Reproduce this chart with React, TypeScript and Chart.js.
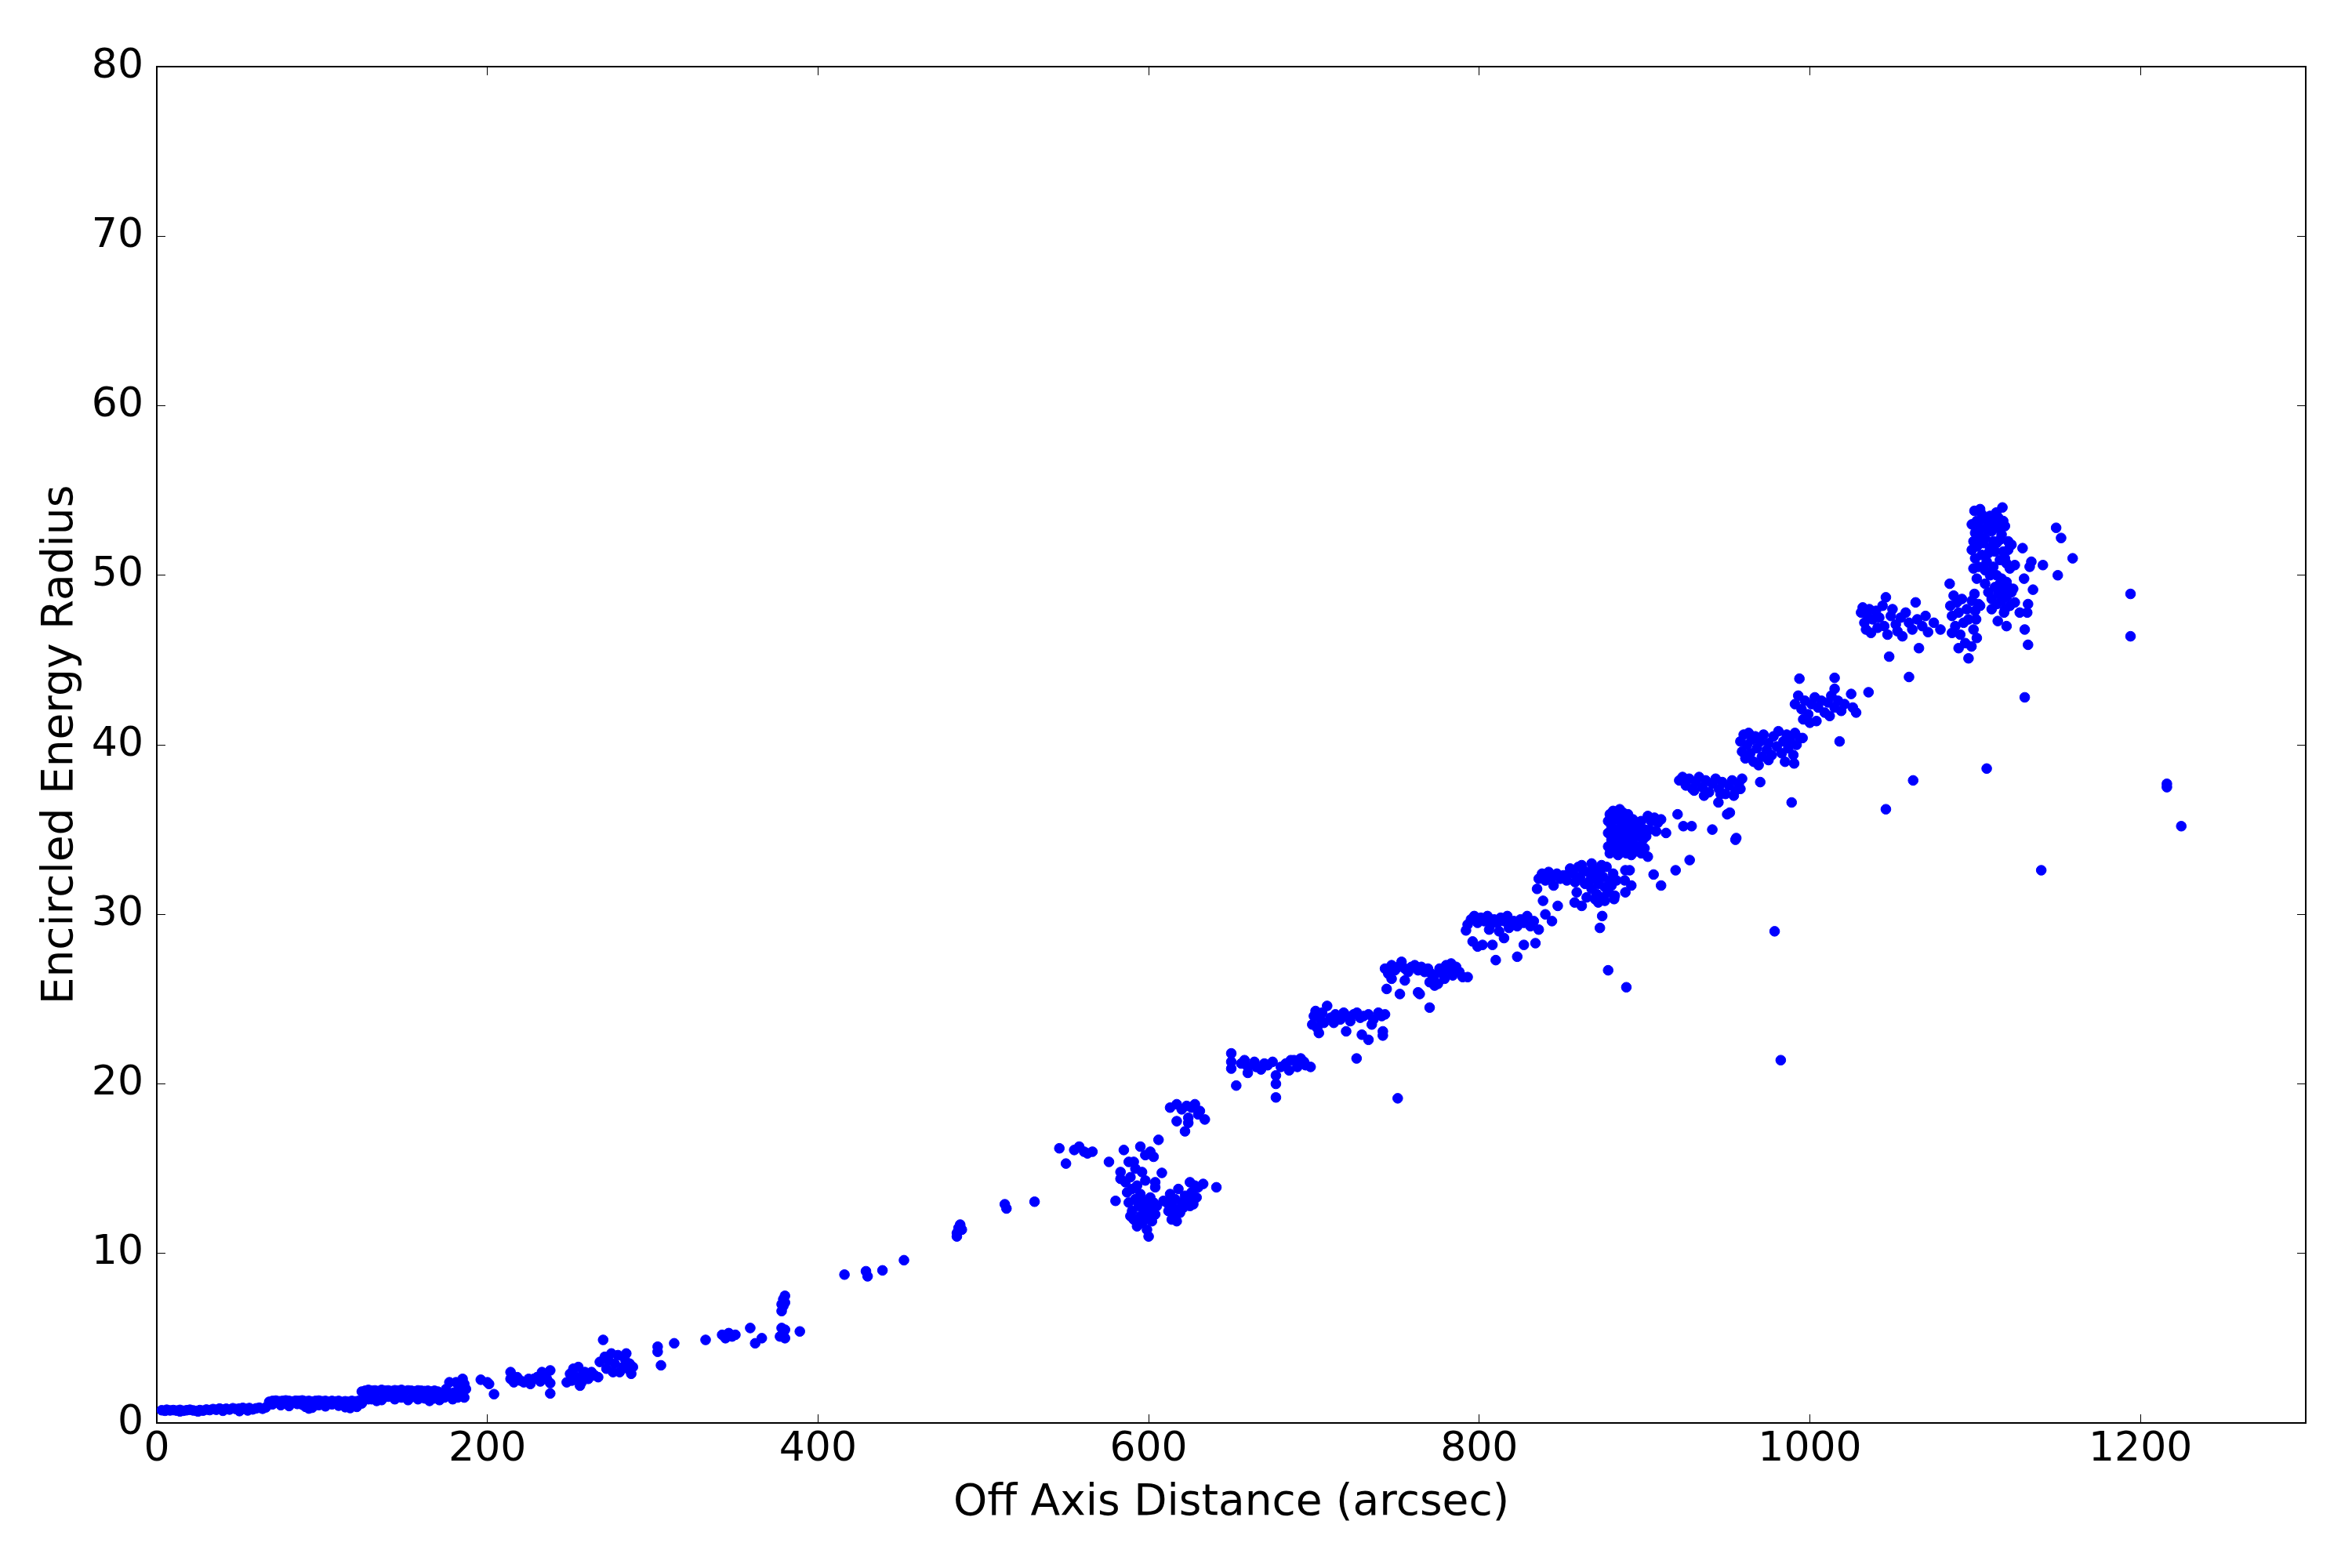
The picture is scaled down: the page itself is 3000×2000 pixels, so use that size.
import React, { useEffect, useRef } from "react";
import { Chart, registerables } from "chart.js";

Chart.register(...registerables);

type P = [number, number];

const xTicks = [0, 200, 400, 600, 800, 1000, 1200];
const yTicks = [0, 10, 20, 30, 40, 50, 60, 70, 80];

const band0: P[] = [
  [3, 0.75], [5, 0.72], [6, 0.78], [8, 0.74], [10, 0.76], [12, 0.73], [14, 0.77], [16, 0.72], [18, 0.75], [20, 0.78],
  [22, 0.74], [24, 0.71], [26, 0.76], [28, 0.73], [30, 0.79], [32, 0.76], [34, 0.82], [36, 0.78], [38, 0.85], [40, 0.8],
  [42, 0.84], [44, 0.79], [46, 0.87], [48, 0.82], [50, 0.85], [52, 0.89], [54, 0.83], [56, 0.88], [58, 0.8], [60, 0.86],
  [62, 0.9], [64, 0.84], [66, 0.92], [14, 0.68], [25, 0.68], [40, 0.72], [50, 0.7], [55, 0.74],
];

const band1: P[] = [
  [68, 1.25], [70, 1.3], [72, 1.32], [74, 1.28], [76, 1.3], [78, 1.33], [80, 1.3], [82, 1.27], [84, 1.31], [86, 1.3],
  [88, 1.33], [90, 1.28], [92, 1.3], [94, 1.26], [96, 1.3], [98, 1.32], [100, 1.28], [102, 1.3], [104, 1.25], [106, 1.3],
  [108, 1.27], [110, 1.3], [112, 1.24], [114, 1.28], [116, 1.25], [118, 1.3], [120, 1.27], [122, 1.3],
  [70, 1.1], [75, 1.05], [80, 1.0], [85, 1.12], [90, 0.95], [94, 0.9], [98, 1.05], [102, 0.98], [106, 1.1], [110, 1.02],
  [114, 0.93], [118, 1.08], [121, 0.95], [124, 1.15], [78, 1.15], [88, 1.08], [92, 0.85], [117, 0.88],
];

const band2: P[] = [
  [124, 1.85], [126, 1.9], [128, 1.95], [130, 1.9], [132, 1.92], [134, 1.88], [136, 1.95], [138, 1.9], [140, 1.92], [142, 1.88],
  [144, 1.93], [146, 1.9], [148, 1.95], [150, 1.88], [152, 1.92], [154, 1.9], [156, 1.87], [158, 1.92], [160, 1.9], [162, 1.88],
  [164, 1.9], [166, 1.85], [168, 1.9], [170, 1.85],
  [126, 1.6], [130, 1.4], [133, 1.3], [136, 1.35], [140, 1.55], [144, 1.4], [148, 1.5], [152, 1.35], [155, 1.55], [158, 1.4],
  [162, 1.45], [165, 1.3], [168, 1.45], [171, 1.35], [138, 1.7], [146, 1.7], [156, 1.68], [164, 1.65], [132, 1.65], [128, 1.4],
  [174, 1.5], [175, 2.0], [176, 1.7], [177, 2.4], [178, 1.6], [180, 1.8], [181, 2.4], [182, 1.5], [183, 2.1], [184, 1.7],
  [185, 2.6], [186, 2.3], [186, 1.5], [187, 2.0], [179, 1.4], [172, 1.6],
];

const band3: P[] = [
  [196, 2.55], [200, 2.4], [201, 2.3], [204, 1.7], [214, 3.0], [214, 2.6], [216, 2.4], [220, 2.5], [222, 2.4], [225, 2.6],
  [228, 2.6], [230, 2.7], [232, 2.45], [233, 3.0], [234, 2.8], [236, 2.6], [238, 3.1], [238, 1.74], [238, 2.35], [218, 2.7],
  [226, 2.3],
  [248, 2.4], [250, 2.9], [252, 3.2], [254, 2.7], [255, 3.3], [256, 2.2], [258, 2.9], [259, 3.0], [261, 2.6], [263, 3.0],
  [265, 2.8], [267, 2.7], [268, 3.6], [270, 4.9], [271, 3.9], [272, 3.2], [273, 3.7], [275, 4.1], [276, 3.0], [277, 3.5],
  [279, 4.0], [280, 3.0], [282, 3.3], [283, 3.8], [284, 4.1], [285, 3.2], [286, 3.5], [287, 2.9], [288, 3.3], [251, 2.5],
  [257, 2.4],
];

const band4: P[] = [
  [303, 4.5], [303, 4.2], [305, 3.4], [313, 4.7], [332, 4.9], [342, 5.2], [344, 5.0], [346, 5.3], [348, 5.1], [350, 5.2],
  [359, 5.6], [362, 4.7], [366, 5.0], [377, 5.1], [378, 5.6], [379, 5.3], [380, 5.0], [380, 5.5], [378, 6.6], [379, 6.9],
  [380, 7.1], [379, 7.3], [380, 7.5], [378, 7.0], [389, 5.4],
  [416, 8.75], [429, 8.95], [430, 8.65], [439, 9.0], [452, 9.6], [484, 11.0], [485, 11.3], [485, 11.5], [486, 11.7], [484, 11.2],
  [487, 11.4], [486, 11.6], [513, 12.9], [514, 12.65], [531, 13.05],
];

const band5: P[] = [
  [546, 16.2], [550, 15.3], [555, 16.1], [558, 16.3], [561, 16.0], [563, 15.9], [566, 16.0], [576, 15.4], [580, 13.1], [583, 14.8],
  [583, 14.4], [585, 16.1], [588, 15.4], [591, 15.4], [595, 16.3], [598, 15.8], [601, 16.0], [603, 15.7], [606, 16.7], [608, 14.75],
  [604, 14.2], [604, 13.9], [600, 11.0], [609, 13.1],
  [586, 14.2], [587, 13.6], [588, 13.0], [589, 14.5], [590, 12.5], [590, 13.8], [591, 12.0], [592, 13.2], [593, 14.0], [593, 11.6],
  [594, 12.8], [595, 12.2], [595, 13.5], [596, 11.8], [597, 12.6], [597, 13.1], [598, 12.0], [599, 12.9], [599, 11.4], [600, 12.4],
  [601, 13.3], [602, 12.7], [602, 11.9], [603, 13.0], [604, 12.3], [605, 12.8], [598, 14.3], [596, 14.8], [589, 12.2], [592, 15.0],
  [611, 13.0], [612, 12.5], [613, 13.5], [614, 12.8], [615, 12.2], [616, 13.2], [617, 12.6], [618, 13.8], [619, 12.4], [620, 13.0],
  [621, 12.7], [622, 13.4], [623, 12.9], [614, 12.0], [617, 11.9],
  [624, 13.2], [625, 14.2], [626, 13.6], [627, 12.9], [628, 14.0], [629, 13.3], [630, 13.9], [625, 12.8], [633, 14.1], [641, 13.9],
  [613, 18.6], [617, 18.8], [620, 18.5], [623, 18.7], [626, 18.6], [628, 18.8], [631, 18.4], [617, 17.8], [622, 17.2], [624, 18.0],
  [624, 17.7], [630, 18.2], [634, 17.9],
];

const band6: P[] = [
  [650, 21.8], [650, 21.3], [650, 20.9], [653, 19.9], [656, 21.2], [660, 21.0], [660, 20.65], [664, 21.3], [668, 20.85], [670, 21.2],
  [672, 21.1], [675, 21.3], [677, 20.5], [677, 20.0], [677, 19.2], [680, 21.0], [683, 21.2], [686, 21.4], [688, 21.4], [690, 21.0],
  [692, 21.5], [695, 21.1], [698, 21.0], [665, 21.0], [685, 20.8], [658, 21.4], [694, 21.3],
  [700, 24.0], [701, 24.3], [699, 23.5], [702, 23.3], [703, 23.0], [704, 23.8], [706, 23.6], [705, 24.2], [708, 24.6],
  [710, 23.9], [713, 24.1], [716, 23.8], [718, 24.2], [720, 24.0], [722, 23.7], [724, 24.1], [726, 24.2], [728, 23.9], [730, 24.0],
  [733, 24.1], [736, 23.8], [739, 24.2], [741, 24.0], [743, 24.1], [719.5, 23.1], [729, 22.9], [733, 22.6], [741.7, 23.1],
  [741.7, 22.85], [725.8, 21.5], [750.7, 19.15], [712, 23.6], [735, 23.5],
];

const band7: P[] = [
  [743, 26.8], [745, 26.5], [747, 27.0], [749, 26.7], [751, 26.9], [753, 27.2], [755, 26.8], [757, 26.6], [759, 26.9], [761, 27.0],
  [763, 26.7], [765, 26.9], [767, 26.6], [769, 26.8], [771, 26.5], [773, 26.4], [744, 25.6], [747, 26.2], [752, 25.3], [755, 26.1],
  [763, 25.4], [764, 25.3], [770, 24.5], [770, 26.0], [773, 25.8], [775, 25.9],
  [776, 26.8], [778, 26.5], [780, 27.0], [782, 26.7], [784, 26.4], [786, 26.9], [788, 26.6], [790, 26.3], [779, 26.2], [783, 27.1],
  [793, 26.3],
  [792, 29.05], [793, 29.4], [795, 29.7], [797, 29.9], [799, 29.5], [801, 29.8], [803, 29.6], [805, 29.9], [807, 29.4], [809, 29.7],
  [811, 29.5], [813, 29.8], [815, 29.6], [817, 29.9], [819, 29.4], [821, 29.6], [823, 29.3], [825, 29.7], [827, 29.5], [829, 29.9],
  [831, 29.3], [833, 29.6], [836, 29.1], [806, 29.1], [812, 29.0], [818, 29.2],
  [796, 28.4], [799, 28.1], [802, 28.2], [808, 28.2], [810, 27.3], [815, 28.6], [823, 27.5], [827, 28.2], [834, 28.3], [840, 30.0],
  [844, 29.6], [838.6, 30.8], [847.5, 30.5],
];

const band8: P[] = [
  [835, 31.5], [836, 32.1], [838, 32.4], [840, 32.0], [842, 32.5], [844, 32.2], [845, 31.7], [847, 32.4], [849, 32.1], [851, 32.3],
  [853, 32.0], [853, 32.3], [855, 32.7], [857, 32.4], [858, 31.9], [860, 32.8], [861, 32.2], [863, 32.6], [864, 31.8], [866, 32.5],
  [867, 32.0], [868, 31.5], [869, 32.7], [870, 32.2], [871, 31.2], [872, 31.8], [873, 32.5], [874, 31.0], [875, 32.2], [876, 31.6],
  [877, 32.8], [878, 31.3], [879, 32.0], [880, 31.7], [881, 32.4], [882, 31.1], [883, 32.0], [859, 31.3], [865, 31.0], [870, 30.9],
  [876, 30.8], [862, 32.9], [868, 33.0], [874, 32.9],
  [857.7, 30.7], [862, 30.5], [872, 30.7], [874.4, 29.9], [873, 29.2], [881.6, 30.9], [888.4, 32.6], [888.4, 31.3], [892, 31.7],
  [891, 32.6], [888, 32.0], [878, 26.7], [889, 25.7],
];

const band9: P[] = [
  [878, 34.0], [878, 34.8], [878, 35.5], [879, 33.6], [879, 35.9], [880, 34.4], [880, 35.2], [881, 33.8], [881, 36.1], [882, 34.6],
  [882, 35.6], [883, 34.1], [883, 35.0], [884, 33.5], [884, 35.8], [885, 34.5], [885, 36.2], [886, 33.9], [886, 35.3], [887, 34.7],
  [887, 36.0], [888, 34.2], [888, 35.5], [889, 33.6], [889, 35.0], [890, 34.5], [890, 35.9], [891, 33.9], [891, 35.3], [892, 34.8],
  [892, 33.5], [893, 35.6], [893, 34.2], [894, 35.0], [894, 33.7], [895, 34.6], [896, 35.3], [896, 34.0], [897, 34.9], [898, 33.6],
  [898, 35.5], [899, 34.4], [900, 35.0], [900, 33.9], [901, 34.6], [902, 33.4], [886, 34.3], [884, 34.9], [880, 33.9], [882, 36.0],
  [902, 35.8], [904, 35.5], [906, 35.7], [908, 35.4], [910, 35.6], [903, 35.0], [907, 34.9], [913, 34.8],
  [905.5, 32.35], [910, 31.7], [918.8, 32.6], [920, 35.9], [923.5, 35.2], [928.5, 35.2], [927.3, 33.2], [941, 35.0], [951.6, 36.0],
  [955.5, 34.5], [944.7, 36.6],
];

const band10: P[] = [
  [921, 37.9], [923, 38.1], [925, 37.6], [927, 38.0], [929, 37.4], [931, 37.8], [933, 38.1], [935, 37.5], [937, 37.9], [939, 37.2],
  [941, 37.7], [943, 38.0], [945, 37.4], [947, 37.8], [949, 37.1], [951, 37.6], [953, 37.9], [955, 37.3], [957, 37.7], [959, 38.0],
  [936, 37.0], [946, 37.1], [930, 37.3], [954, 37.0], [958, 37.4], [950, 35.9], [955, 34.4], [970, 37.8], [989, 36.6],
  [958, 40.2], [959, 39.6], [960, 40.6], [961, 39.2], [962, 40.0], [963, 40.7], [964, 39.5], [965, 40.3], [966, 39.0], [967, 40.5],
  [968, 39.8], [970, 40.2], [971, 39.3], [972, 40.6], [974, 39.7], [975, 40.1], [977, 39.4], [978, 40.5], [980, 39.9], [981, 40.8],
  [983, 39.5], [984, 40.2], [986, 40.6], [987, 39.8], [988, 40.3], [990, 39.4], [991, 40.7], [992, 40.0], [994, 40.4], [969, 38.8],
  [990.5, 38.9], [995.6, 40.4], [975, 39.1], [985, 39.0], [978.7, 29.0], [982.4, 21.4],
];

const band11: P[] = [
  [993.7, 43.9], [1015, 43.95], [1015, 43.3], [1018, 40.2],
  [991, 42.4], [993, 42.9], [995, 42.1], [997, 42.6], [999, 41.8], [1001, 42.4], [1003, 42.8], [1005, 42.2], [1007, 42.6], [1009, 41.9],
  [1011, 42.5], [1013, 42.9], [1015, 42.2], [1017, 42.6], [1019, 42.0], [1021, 42.4], [996, 41.5], [1000, 41.3], [1004, 41.4], [1012, 41.7],
  [1025, 43.0], [1026, 42.2], [1028, 41.9], [1035.5, 43.1], [1060, 44.0],
  [1031, 47.8], [1032, 48.1], [1033, 47.2], [1034, 46.8], [1035, 47.6], [1036, 48.0], [1037, 46.6], [1038, 47.4], [1040, 47.9], [1041, 46.9],
  [1042, 47.5], [1044, 48.2], [1045, 47.0], [1046, 48.7], [1047, 46.5], [1048, 45.2], [1049, 47.6], [1050, 48.0], [1052, 47.1], [1053, 46.7],
  [1055, 47.5], [1056, 46.4], [1058, 47.8], [1060, 47.2], [1062, 46.8], [1064, 48.4], [1065, 47.4], [1066, 45.7], [1068, 47.0], [1070, 47.6],
  [1071.5, 46.65], [1075, 47.2], [1079, 46.8], [1046, 36.2], [1062.5, 37.9],
];

const band12: P[] = [
  [1084.6, 49.5], [1085, 48.2], [1086, 47.6], [1087, 48.8], [1088, 47.0], [1089, 48.4], [1090, 45.7], [1090, 47.8], [1091, 46.5], [1092, 48.6],
  [1093, 47.2], [1094, 46.0], [1095, 48.0], [1096, 45.1], [1096, 47.4], [1097.8, 45.8], [1098, 48.5], [1099, 46.8], [1100, 47.9], [1101, 46.3],
  [1102, 48.3], [1086, 46.6],
  [1099.6, 53.8], [1103, 53.9], [1112.8, 53.7], [1116.5, 54.0],
  [1098, 53.0], [1100, 52.5], [1101, 53.2], [1102, 51.8], [1103, 52.8], [1104, 51.2], [1105, 53.3], [1106, 52.2], [1107, 50.8], [1108, 53.0],
  [1109, 51.6], [1110, 52.6], [1111, 50.5], [1112, 53.1], [1113, 51.9], [1114, 52.8], [1115, 50.9], [1116, 52.4], [1117, 51.4], [1118, 52.9],
  [1119, 50.7], [1120, 52.0],
  [1098, 51.5], [1099, 52.0], [1100, 51.0], [1101, 51.7], [1102, 50.5], [1103, 52.3], [1104, 53.6], [1105, 51.9], [1106, 50.3], [1107, 52.7],
  [1108, 51.3], [1109, 53.5], [1110, 50.2], [1111, 52.0], [1112, 51.4], [1113, 50.0], [1114, 53.4], [1115, 52.1], [1116, 49.8], [1117, 53.2],
  [1118, 51.0], [1119, 49.6], [1120, 51.5], [1121, 50.4], [1122, 51.8], [1123, 49.2], [1124, 50.6],
  [1106, 49.5], [1108, 49.0], [1110, 48.6], [1112, 49.3], [1113, 48.3], [1114, 48.9], [1115, 49.5], [1116, 48.5], [1117, 49.1], [1118, 48.0],
  [1119, 48.7], [1120, 49.3], [1121, 48.2], [1122, 49.0], [1124, 48.4], [1109, 50.0], [1105, 50.5], [1101, 49.8], [1099, 50.4],
];

const band13: P[] = [
  [1128.7, 51.6], [1134, 50.8], [1133, 50.5], [1141, 50.6], [1149, 52.8], [1152, 52.2], [1159, 51.0], [1150, 50.0], [1129.6, 49.8],
  [1135, 49.15], [1132, 48.3], [1131.5, 47.8], [1127, 47.8], [1130, 46.8], [1132, 45.9], [1119, 47.0], [1113.7, 47.3], [1117.5, 47.8],
  [1110, 48.0], [1103, 48.2], [1099.6, 48.9], [1100.6, 47.4], [1130, 42.8], [1107, 38.6], [1140, 32.6], [1194, 48.9], [1194, 46.4],
  [1216, 37.5], [1216, 37.7], [1224.7, 35.2],
];

const groups: P[][] = [band0, band1, band2, band3, band4, band5, band6, band7, band8, band9, band10, band11, band12, band13];

const FONT = "'DejaVu Sans', 'Liberation Sans', sans-serif";

export default function App() {
  const ref = useRef<HTMLCanvasElement | null>(null);

  useEffect(() => {
    if (!ref.current) return;
    const points = groups.flat().map(([x, y]) => ({ x, y }));
    const axisGrid = {
      drawOnChartArea: false,
      drawTicks: true,
      tickLength: -11,
      color: "#000000",
      lineWidth: 1,
    };
    const axisBorder = { display: true, color: "#000000", width: 2 };
    const xTickCb = (v: number | string) => (xTicks.includes(Number(v)) ? String(v) : "");
    const yTickCb = (v: number | string) => (yTicks.includes(Number(v)) ? String(v) : "");
    const chart = new Chart(ref.current, {
      type: "scatter",
      data: {
        datasets: [
          {
            data: points,
            backgroundColor: "#0000ff",
            borderColor: "#0000ff",
            borderWidth: 1,
            pointRadius: 6.3,
            pointHoverRadius: 6.3,
          },
        ],
      },
      options: {
        responsive: false,
        animation: false,
        devicePixelRatio: 1,
        layout: { padding: { top: 85, right: 59, left: 0, bottom: 0 } },
        plugins: { legend: { display: false }, tooltip: { enabled: false } },
        scales: {
          x: {
            type: "linear",
            position: "bottom",
            min: 0,
            max: 1300,
            ticks: {
              stepSize: 200,
              includeBounds: false,
              autoSkip: false,
              maxRotation: 0,
              padding: 14,
              color: "#000000",
              font: { family: FONT, size: 52 },
              callback: xTickCb,
            },
            grid: axisGrid,
            border: axisBorder,
            title: {
              display: true,
              text: "Off Axis Distance (arcsec)",
              color: "#000000",
              font: { family: FONT, size: 55 },
              padding: { top: 0, bottom: 49 },
            },
            afterFit: (s: any) => {
              s.height = 185;
            },
          },
          x2: {
            type: "linear",
            position: "top",
            min: 0,
            max: 1300,
            ticks: { stepSize: 200, includeBounds: false, display: false },
            grid: axisGrid,
            border: axisBorder,
            afterFit: (s: any) => {
              s.height = 0;
            },
          },
          y: {
            type: "linear",
            position: "left",
            min: 0,
            max: 80,
            ticks: {
              stepSize: 10,
              includeBounds: false,
              autoSkip: false,
              padding: 28,
              color: "#000000",
              font: { family: FONT, size: 52 },
              callback: yTickCb,
            },
            grid: axisGrid,
            border: axisBorder,
            title: {
              display: true,
              text: "Encircled Energy Radius",
              color: "#000000",
              font: { family: FONT, size: 55 },
              padding: { top: 45, bottom: 0 },
            },
            afterFit: (s: any) => {
              s.width = 200;
            },
          },
          y2: {
            type: "linear",
            position: "right",
            min: 0,
            max: 80,
            ticks: { stepSize: 10, includeBounds: false, display: false },
            grid: axisGrid,
            border: axisBorder,
            afterFit: (s: any) => {
              s.width = 0;
            },
          },
        },
      } as any,
    });
    return () => chart.destroy();
  }, []);

  return (
    <div style={{ position: "absolute", left: 0, top: 0, width: 3000, height: 2000, background: "#ffffff" }}>
      <canvas ref={ref} width={3000} height={2000} style={{ width: 3000, height: 2000, display: "block" }} />
    </div>
  );
}
